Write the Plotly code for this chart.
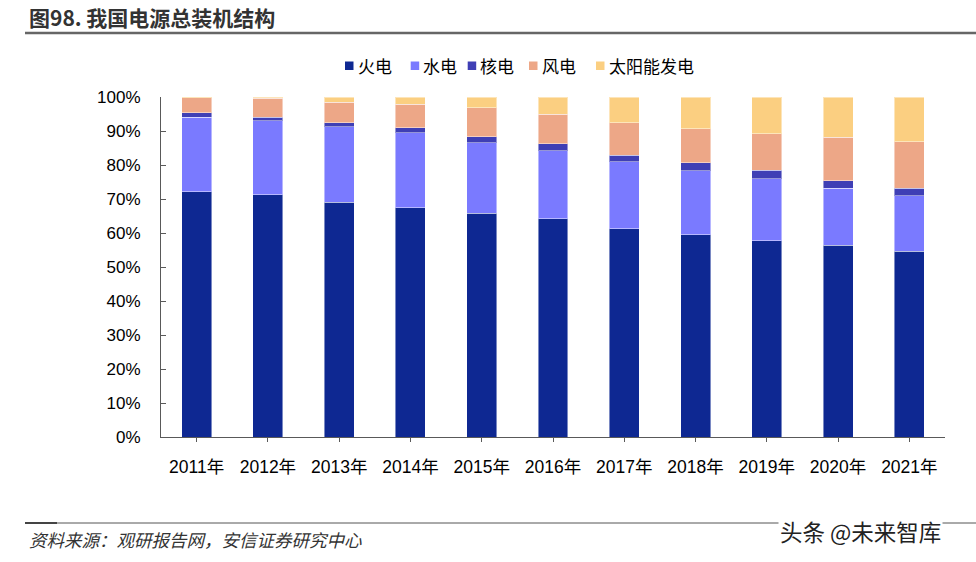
import plotly.graph_objects as go

years = ["2011年", "2012年", "2013年", "2014年", "2015年", "2016年",
         "2017年", "2018年", "2019年", "2020年", "2021年"]
series_names = ["火电", "水电", "核电", "风电", "太阳能发电"]
thermal = [72.2, 71.3, 69.0, 67.4, 65.8, 64.2, 61.2, 59.5, 57.7, 56.4, 54.6]
hydro = [21.9, 21.7, 22.2, 22.1, 20.8, 20.0, 19.7, 18.8, 18.3, 16.8, 16.4]
nuclear = [1.2, 1.1, 1.2, 1.5, 1.7, 2.0, 2.0, 2.4, 2.4, 2.2, 2.1]
wind = [4.5, 5.5, 6.1, 6.9, 8.6, 8.8, 9.5, 9.9, 10.8, 12.8, 13.7]
solar = [0.2, 0.4, 1.5, 2.1, 3.1, 5.0, 7.6, 9.4, 10.8, 11.8, 13.2]
colors = ["#0E2892", "#7A7AFF", "#3F3FB5", "#EDA787", "#FBCF81"]

title_text = "图98. 我国电源总装机结构"
source_text = "资料来源：观研报告网，安信证券研究中心"
watermark_text = "头条 @未来智库"

W, H = 976, 562
L, R, T, B = 161, 31, 97, 125
PW, PH = W - L - R, H - T - B


def px(x):
    return (x - L) / PW


def py(y):
    return (H - B - y) / PH


fig = go.Figure()
for name, vals, col in zip(series_names, [thermal, hydro, nuclear, wind, solar], colors):
    fig.add_trace(go.Bar(
        x=years, y=[v / 100 for v in vals], name=name,
        marker=dict(color=col, line=dict(color="rgba(255,255,255,0.45)", width=1)),
        showlegend=False,
    ))

base_font = "Liberation Sans, Arial, Noto Sans CJK SC, sans-serif"
cjk_font = "Noto Sans CJK SC, Liberation Sans, sans-serif"

fig.update_layout(
    width=W, height=H,
    margin=dict(l=L, r=R, t=T, b=B, pad=0),
    barmode="stack", bargap=0.58,
    plot_bgcolor="white", paper_bgcolor="white",
    font=dict(family=base_font, size=17, color="#000000"),
    xaxis=dict(
        type="category", showline=True, linecolor="#595959", linewidth=1,
        ticks="outside", ticklen=4, tickcolor="#595959",
        tickfont=dict(size=17.5, family=base_font, color="#000"),
        ticklabelstandoff=10, showgrid=False, zeroline=False,
        range=[-0.5, 10.5],
    ),
    yaxis=dict(
        range=[0, 1], dtick=0.1, tickformat=".0%", showline=True,
        linecolor="#595959", linewidth=1, ticks="inside", ticklen=5,
        tickcolor="#595959", tickfont=dict(size=17, family=base_font, color="#000"),
        ticklabelstandoff=16, showgrid=False, zeroline=False,
    ),
)

shapes = []
annotations = []

# title and separators
annotations.append(dict(
    text="<b>" + title_text + "</b>", x=px(27), y=py(17), xref="paper", yref="paper",
    xanchor="left", yanchor="middle", showarrow=False,
    font=dict(family=cjk_font, size=21, color="#333333"),
))
shapes.append(dict(type="line", xref="paper", yref="paper",
                   x0=px(25), x1=px(976), y0=py(33), y1=py(33),
                   line=dict(color="#666666", width=2.5)))
shapes.append(dict(type="line", xref="paper", yref="paper",
                   x0=px(25), x1=px(976), y0=py(523), y1=py(523),
                   line=dict(color="#555555", width=1)))
shapes.append(dict(type="line", xref="paper", yref="paper",
                   x0=px(25), x1=px(57), y0=py(523), y1=py(523),
                   line=dict(color="#444444", width=2)))

annotations.append(dict(
    text=source_text, x=px(27), y=py(539), xref="paper", yref="paper",
    xanchor="left", yanchor="middle", showarrow=False,
    font=dict(family=cjk_font, size=17.5, color="#333333", style="italic"),
))
annotations.append(dict(
    text=watermark_text, x=px(778), y=py(531), xref="paper", yref="paper",
    xanchor="left", yanchor="middle", showarrow=False, bgcolor="white",
    font=dict(family=cjk_font, size=22.5, color="#222222"),
))

# legend
legend_sq_x = [345, 410.7, 467.7, 529, 596]
for name, col, sx in zip(series_names, colors, legend_sq_x):
    shapes.append(dict(type="rect", xref="paper", yref="paper",
                       x0=px(sx), x1=px(sx + 8.5), y0=py(70), y1=py(61.5),
                       fillcolor=col, line=dict(width=0)))
    annotations.append(dict(
        text=name, x=px(sx + 10.5), y=py(65.5), xref="paper", yref="paper",
        xanchor="left", yanchor="middle", showarrow=False,
        font=dict(family=cjk_font, size=17, color="#000000"),
    ))

fig.update_layout(shapes=shapes, annotations=annotations)
fig.write_html("out.html", config={"displayModeBar": False})

# remove default page margin so the figure sits at the window origin
with open("out.html", "r", encoding="utf-8") as f:
    html = f.read()
html = html.replace("<body>", '<body style="margin:0;padding:0;overflow:hidden">', 1)
with open("out.html", "w", encoding="utf-8") as f:
    f.write(html)
